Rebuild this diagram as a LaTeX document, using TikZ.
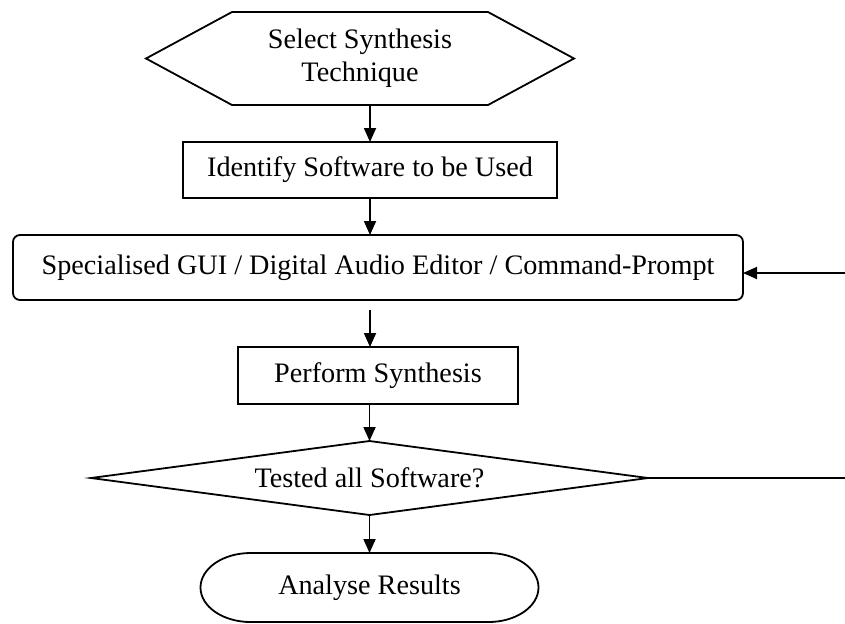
\documentclass[tikz,border=0pt]{standalone}
\usepackage{fontspec}
\setmainfont{Liberation Serif}
\usepackage{tikz}
\usetikzlibrary{calc,positioning,arrows.meta,shapes.geometric}

\begin{document}
\begin{tikzpicture}[
        node distance=18.5pt,
        line width=0.9pt,
        >={Triangle[length=7pt,width=6pt]},
        every node/.style={font=\fontsize{14.1}{16.5}\selectfont,align=center,inner sep=2pt,outer sep=0pt},
        plain/.style={draw,minimum width=187pt,minimum height=28pt},
        softbox/.style={draw,rounded corners=3.5pt,minimum width=365pt,minimum height=32.5pt},
        decide/.style={draw,diamond,aspect=7.5,minimum width=278.5pt,minimum height=37pt}
    ]
    \useasboundingbox (0,0) rectangle (422.5pt,-311.5pt);
    \coordinate (edge) at (422.5pt,0);

    % start (hexagon drawn round the node)
    \node (sel) [minimum width=214pt,minimum height=46.5pt] at (180pt,-29.25pt) {Select Synthesis\\Technique};
    \draw (sel.west) -- ([xshift=43pt]sel.north west) -- ([xshift=-43pt]sel.north east)
          -- (sel.east) -- ([xshift=-43pt]sel.south east) -- ([xshift=43pt]sel.south west) -- cycle;

    \node (ident) [plain,below=of sel,xshift=5pt]                {Identify Software to be Used};
    \node (tool)  [softbox,below=of ident,xshift=4pt]            {Specialised GUI / Digital Audio Editor / Command-Prompt};
    \node (synth) [plain,below=23.5pt of tool,minimum width=140pt,minimum height=28.5pt] {Perform Synthesis};
    \node (test)  [decide,below=of synth,xshift=-4.25pt]         {Tested all Software?};

    % end (terminator drawn round the node)
    \node (res) [minimum width=169pt,minimum height=34.5pt,below=19pt of test] {Analyse Results};
    \draw ([xshift=25pt]res.north west) -- ([xshift=-25pt]res.north east)
          arc[start angle=90,end angle=-90,x radius=25pt,y radius=17.25pt]
          -- ([xshift=25pt]res.south west)
          arc[start angle=270,end angle=90,x radius=25pt,y radius=17.25pt] -- cycle;

    \draw [->] (sel.south -| ident.north) -- (ident.north);
    \draw [->] (ident.south) -- (ident.south |- tool.north);
    \draw [->] ([yshift=-5pt]tool.south -| ident.south) -- (ident.south |- synth.north);
    \draw [->] (synth.south -| test.north) -- (test.north);
    \draw [->] (test.south) -- (res.north);

    % loop back, runs off the page
    \coordinate (loopout) at (test.east -| edge);
    \coordinate (loopin)  at ([yshift=-2.75pt]tool.east -| edge);
    \draw      (test.east) -- (loopout);
    \draw [->] (loopin) -- (loopin -| tool.east);
\end{tikzpicture}
\end{document}
